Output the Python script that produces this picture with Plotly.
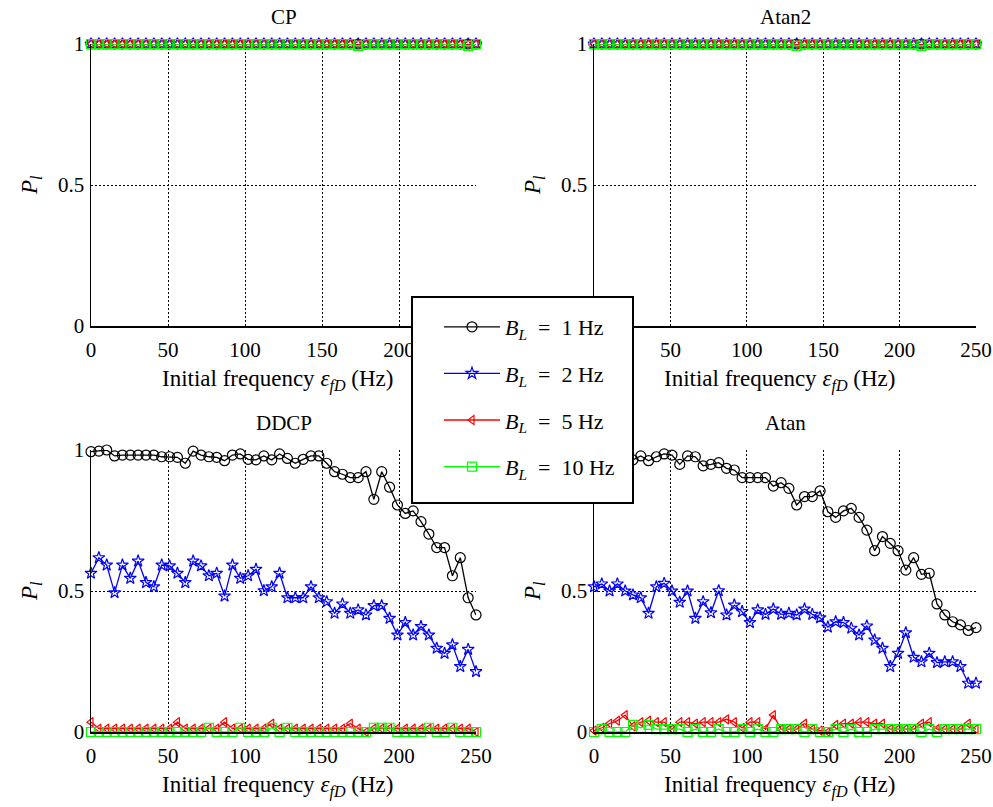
import plotly.graph_objects as go

# ---------------- data ----------------
freq = [0.00, 5.10, 10.20, 15.31, 20.41, 25.51, 30.61, 35.71, 40.82, 45.92,
        51.02, 56.12, 61.22, 66.33, 71.43, 76.53, 81.63, 86.73, 91.84, 96.94,
        102.04, 107.14, 112.24, 117.35, 122.45, 127.55, 132.65, 137.76, 142.86, 147.96,
        153.06, 158.16, 163.27, 168.37, 173.47, 178.57, 183.67, 188.78, 193.88, 198.98,
        204.08, 209.18, 214.29, 219.39, 224.49, 229.59, 234.69, 239.80, 244.90, 250.00]

series_labels = ["<i>B</i><sub><i>L</i></sub>&nbsp;&nbsp;=&nbsp;&nbsp;1 Hz",
                 "<i>B</i><sub><i>L</i></sub>&nbsp;&nbsp;=&nbsp;&nbsp;2 Hz",
                 "<i>B</i><sub><i>L</i></sub>&nbsp;&nbsp;=&nbsp;&nbsp;5 Hz",
                 "<i>B</i><sub><i>L</i></sub>&nbsp;&nbsp;=&nbsp;&nbsp;10 Hz"]
panel_titles = ["CP", "Atan2", "DDCP", "Atan"]
x_ticks = [0, 50, 100, 150, 200, 250]
y_ticks = [0, 0.5, 1]
y_ticktext = ["0", "0.5", "1"]

# CP
cp_bl1 = [1.0, 1.0, 1.0, 1.0, 1.0, 1.0, 1.0, 1.0, 1.0, 1.0,
          1.0, 1.0, 1.0, 1.0, 1.0, 1.0, 1.0, 1.0, 1.0, 1.0,
          1.0, 1.0, 1.0, 1.0, 1.0, 1.0, 1.0, 1.0, 1.0, 1.0,
          1.0, 1.0, 1.0, 1.0, 1.0, 1.0, 1.0, 1.0, 1.0, 1.0,
          1.0, 1.0, 1.0, 1.0, 1.0, 1.0, 1.0, 1.0, 1.0, 1.0]
cp_bl2 = [1.0, 1.0, 1.0, 1.0, 1.0, 1.0, 1.0, 1.0, 1.0, 1.0,
          1.0, 1.0, 1.0, 1.0, 1.0, 1.0, 1.0, 1.0, 1.0, 1.0,
          1.0, 1.0, 1.0, 1.0, 1.0, 1.0, 1.0, 1.0, 1.0, 1.0,
          1.0, 1.0, 1.0, 1.0, 1.0, 1.0, 1.0, 1.0, 1.0, 1.0,
          1.0, 1.0, 1.0, 1.0, 1.0, 1.0, 1.0, 1.0, 1.0, 1.0]
cp_bl5 = [1.0, 1.0, 1.0, 1.0, 1.0, 1.0, 1.0, 1.0, 1.0, 1.0,
          1.0, 1.0, 1.0, 1.0, 1.0, 1.0, 1.0, 1.0, 1.0, 1.0,
          1.0, 1.0, 1.0, 1.0, 1.0, 1.0, 1.0, 1.0, 1.0, 1.0,
          1.0, 1.0, 1.0, 1.0, 1.0, 1.0, 1.0, 1.0, 1.0, 1.0,
          1.0, 1.0, 1.0, 1.0, 1.0, 1.0, 1.0, 1.0, 1.0, 1.0]
cp_bl10 = [1.0, 1.0, 1.0, 1.0, 1.0, 1.0, 1.0, 1.0, 1.0, 1.0,
           1.0, 1.0, 1.0, 1.0, 1.0, 1.0, 1.0, 1.0, 1.0, 1.0,
           1.0, 1.0, 1.0, 1.0, 1.0, 1.0, 1.0, 1.0, 1.0, 1.0,
           1.0, 1.0, 1.0, 1.0, 0.993, 1.0, 1.0, 1.0, 1.0, 1.0,
           1.0, 1.0, 1.0, 1.0, 1.0, 1.0, 1.0, 1.0, 0.993, 1.0]

# Atan2
atan2_bl1 = [1.0, 1.0, 1.0, 1.0, 1.0, 1.0, 1.0, 1.0, 1.0, 1.0,
             1.0, 1.0, 1.0, 1.0, 1.0, 1.0, 1.0, 1.0, 1.0, 1.0,
             1.0, 1.0, 1.0, 1.0, 1.0, 1.0, 1.0, 1.0, 1.0, 1.0,
             1.0, 1.0, 1.0, 1.0, 1.0, 1.0, 1.0, 1.0, 1.0, 1.0,
             1.0, 1.0, 1.0, 1.0, 1.0, 1.0, 1.0, 1.0, 1.0, 1.0]
atan2_bl2 = [1.0, 1.0, 1.0, 1.0, 1.0, 1.0, 1.0, 1.0, 1.0, 1.0,
             1.0, 1.0, 1.0, 1.0, 1.0, 1.0, 1.0, 1.0, 1.0, 1.0,
             1.0, 1.0, 1.0, 1.0, 1.0, 1.0, 1.0, 1.0, 1.0, 1.0,
             1.0, 1.0, 1.0, 1.0, 1.0, 1.0, 1.0, 1.0, 1.0, 1.0,
             1.0, 1.0, 1.0, 1.0, 1.0, 1.0, 1.0, 1.0, 1.0, 1.0]
atan2_bl5 = [1.0, 1.0, 1.0, 1.0, 1.0, 1.0, 1.0, 1.0, 1.0, 1.0,
             1.0, 1.0, 1.0, 1.0, 1.0, 1.0, 1.0, 1.0, 1.0, 1.0,
             1.0, 1.0, 1.0, 1.0, 1.0, 1.0, 1.0, 1.0, 1.0, 1.0,
             1.0, 1.0, 1.0, 1.0, 1.0, 1.0, 1.0, 1.0, 1.0, 1.0,
             1.0, 1.0, 1.0, 1.0, 1.0, 1.0, 1.0, 1.0, 1.0, 1.0]
atan2_bl10 = [1.0, 1.0, 1.0, 1.0, 1.0, 1.0, 1.0, 1.0, 1.0, 1.0,
              1.0, 1.0, 1.0, 1.0, 1.0, 1.0, 1.0, 1.0, 1.0, 1.0,
              1.0, 1.0, 1.0, 1.0, 1.0, 1.0, 0.993, 1.0, 1.0, 1.0,
              1.0, 1.0, 1.0, 1.0, 1.0, 1.0, 1.0, 1.0, 1.0, 1.0,
              1.0, 1.0, 0.993, 1.0, 1.0, 1.0, 1.0, 1.0, 1.0, 1.0]

# DDCP
ddcp_bl1 = [0.994, 0.996, 1.0, 0.979, 0.982, 0.982, 0.982, 0.982, 0.982, 0.976,
            0.976, 0.974, 0.953, 0.996, 0.982, 0.976, 0.974, 0.962, 0.982, 0.986,
            0.967, 0.965, 0.979, 0.965, 0.986, 0.970, 0.953, 0.967, 0.979, 0.979,
            0.953, 0.923, 0.914, 0.902, 0.902, 0.923, 0.825, 0.923, 0.868, 0.805,
            0.775, 0.784, 0.746, 0.702, 0.654, 0.654, 0.554, 0.618, 0.476, 0.415]
ddcp_bl2 = [0.563, 0.618, 0.592, 0.494, 0.592, 0.545, 0.606, 0.530, 0.515, 0.592,
            0.589, 0.563, 0.530, 0.606, 0.589, 0.554, 0.563, 0.482, 0.592, 0.545,
            0.554, 0.577, 0.501, 0.515, 0.563, 0.476, 0.476, 0.476, 0.515, 0.476,
            0.462, 0.421, 0.454, 0.421, 0.433, 0.415, 0.448, 0.448, 0.403, 0.344,
            0.388, 0.344, 0.374, 0.344, 0.297, 0.279, 0.309, 0.232, 0.293, 0.214]
ddcp_bl5 = [0.035, 0.012, 0.012, 0.012, 0.012, 0.012, 0.012, 0.012, 0.012, 0.012,
            0.012, 0.035, 0.012, 0.012, 0.012, 0.012, 0.012, 0.035, 0.012, 0.012,
            0.012, 0.012, 0.012, 0.030, 0.012, 0.012, 0.012, 0.012, 0.012, 0.012,
            0.012, 0.012, 0.012, 0.030, 0.012, 0.0, 0.012, 0.012, 0.012, 0.012,
            0.012, 0.012, 0.012, 0.012, 0.012, 0.012, 0.012, 0.012, 0.012, 0.0]
ddcp_bl10 = [0.0, 0.0, 0.0, 0.0, 0.0, 0.0, 0.0, 0.0, 0.0, 0.0,
             0.0, 0.0, 0.0, 0.0, 0.0, 0.015, 0.0, 0.0, 0.0, 0.015,
             0.0, 0.0, 0.0, 0.015, 0.0, 0.015, 0.0, 0.0, 0.0, 0.0,
             0.0, 0.0, 0.0, 0.0, 0.0, 0.0, 0.015, 0.015, 0.015, 0.0,
             0.0, 0.0, 0.0, 0.015, 0.0, 0.0, 0.015, 0.0, 0.0, 0.0]

# Atan
atan_bl1 = [0.970, 0.975, 0.980, 0.970, 0.975, 0.965, 0.979, 0.962, 0.976, 0.986,
            0.982, 0.949, 0.979, 0.976, 0.944, 0.949, 0.955, 0.935, 0.929, 0.902,
            0.902, 0.902, 0.902, 0.872, 0.884, 0.864, 0.805, 0.835, 0.835, 0.855,
            0.781, 0.761, 0.784, 0.793, 0.761, 0.716, 0.643, 0.693, 0.669, 0.643,
            0.574, 0.618, 0.559, 0.563, 0.454, 0.415, 0.391, 0.380, 0.360, 0.370]
atan_bl2 = [0.515, 0.525, 0.500, 0.525, 0.500, 0.486, 0.476, 0.421, 0.515, 0.527,
            0.500, 0.460, 0.500, 0.403, 0.462, 0.423, 0.501, 0.415, 0.450, 0.427,
            0.388, 0.433, 0.417, 0.436, 0.417, 0.421, 0.415, 0.436, 0.417, 0.405,
            0.372, 0.391, 0.388, 0.368, 0.344, 0.376, 0.326, 0.297, 0.232, 0.279,
            0.352, 0.265, 0.249, 0.279, 0.246, 0.249, 0.249, 0.232, 0.173, 0.173]
atan_bl5 = [0.005, 0.015, 0.030, 0.040, 0.060, 0.020, 0.035, 0.040, 0.035, 0.035,
            0.010, 0.035, 0.035, 0.030, 0.035, 0.035, 0.035, 0.045, 0.035, 0.015,
            0.035, 0.035, 0.010, 0.060, 0.010, 0.010, 0.010, 0.030, 0.010, 0.005,
            0.0, 0.025, 0.030, 0.030, 0.035, 0.035, 0.030, 0.030, 0.010, 0.010,
            0.010, 0.010, 0.030, 0.035, 0.010, 0.010, 0.010, 0.010, 0.030, 0.010]
atan_bl10 = [0.0, 0.010, 0.0, 0.0, 0.0, 0.025, 0.015, 0.025, 0.010, 0.010,
             0.010, 0.010, 0.0, 0.010, 0.0, 0.0, 0.010, 0.0, 0.0, 0.010,
             0.0, 0.010, 0.0, 0.0, 0.010, 0.010, 0.010, 0.0, 0.010, 0.0,
             0.0, 0.010, 0.0, 0.010, 0.0, 0.0, 0.010, 0.010, 0.010, 0.010,
             0.010, 0.010, 0.0, 0.010, 0.0, 0.010, 0.010, 0.010, 0.010, 0.010]

panels_data = [
    [cp_bl1, cp_bl2, cp_bl5, cp_bl10],
    [atan2_bl1, atan2_bl2, atan2_bl5, atan2_bl10],
    [ddcp_bl1, ddcp_bl2, ddcp_bl5, ddcp_bl10],
    [atan_bl1, atan_bl2, atan_bl5, atan_bl10],
]

# ---------------- style ----------------
W, H = 993, 807
FONT = "Liberation Serif"
colors = ["#000000", "#0000ff", "#ff0000", "#00ff00"]
symbols = ["circle-open", "star-open", "triangle-left-open", "square-open"]
msizes = [10, 9, 8, 9]


def px(v):
    """window x pixel -> paper x"""
    return v / W


def py(v):
    """window y pixel -> paper y"""
    return 1 - v / H


# panel boxes in window pixels: (x0, x1, ytop, ybottom)
boxes = [(91, 476, 44, 326), (594, 976, 44, 326),
         (91, 476, 450, 732), (594, 976, 450, 732)]

fig = go.Figure()

for p, (data, box) in enumerate(zip(panels_data, boxes)):
    xa = "x" if p == 0 else f"x{p + 1}"
    ya = "y" if p == 0 else f"y{p + 1}"
    for s in range(4):
        fig.add_trace(go.Scatter(
            x=freq, y=data[s], xaxis=xa, yaxis=ya,
            mode="lines+markers", name=series_labels[s],
            legendgroup=f"g{s}", showlegend=(p == 0),
            line=dict(color=colors[s], width=1.3),
            marker=dict(symbol=symbols[s], size=msizes[s], color=colors[s],
                        line=dict(color=colors[s], width=1.2)),
            cliponaxis=False,
        ))

layout = dict(
    width=W, height=H, autosize=False,
    margin=dict(l=0, r=0, t=0, b=0, pad=0),
    paper_bgcolor="white", plot_bgcolor="white",
    font=dict(family=FONT, size=20, color="black"),
    legend=dict(x=px(439), y=py(306), xanchor="left", yanchor="top",
                bgcolor="rgba(0,0,0,0)", borderwidth=0,
                font=dict(family=FONT, size=22, color="black"),
                tracegroupgap=15, traceorder="grouped", itemwidth=56),
    shapes=[dict(type="rect", xref="paper", yref="paper",
                 x0=px(412), x1=px(633), y0=py(503), y1=py(297),
                 fillcolor="white", line=dict(color="black", width=2),
                 layer="above")],
    annotations=[],
)

for p, box in enumerate(boxes):
    x0, x1, yt, yb = box
    sx = "" if p == 0 else str(p + 1)
    layout[f"xaxis{sx}"] = dict(
        domain=[px(x0), px(x1)], anchor=f"y{sx}", range=[0, 250],
        tickvals=x_ticks, showline=True, linecolor="black", linewidth=1.5,
        showgrid=True, gridcolor="black", griddash="2px,2px", gridwidth=1,
        zeroline=False, ticks="outside", ticklen=4, tickcolor="rgba(0,0,0,0)",
        automargin=False, ticklabeloverflow="allow",
        tickfont=dict(family=FONT, size=21, color="black"), fixedrange=True)
    layout[f"yaxis{sx}"] = dict(
        domain=[py(yb), py(yt)], anchor=f"x{sx}", range=[0, 1],
        tickvals=y_ticks, ticktext=y_ticktext, showline=True, linecolor="black",
        linewidth=1.5, showgrid=True, gridcolor="black", griddash="2px,2px",
        gridwidth=1, zeroline=False, ticks="outside", ticklen=1,
        tickcolor="rgba(0,0,0,0)", automargin=False, ticklabeloverflow="allow",
        tickfont=dict(family=FONT, size=21, color="black"), fixedrange=True)
    cx = (x0 + x1) / 2
    # panel title
    layout["annotations"].append(dict(
        text=panel_titles[p], xref="paper", yref="paper",
        x=px(cx), y=py(yt - 27), xanchor="center", yanchor="middle",
        showarrow=False, font=dict(family=FONT, size=21, color="black")))
    # x-axis title
    layout["annotations"].append(dict(
        text="Initial frequency <i>ε</i><sub><i>fD</i></sub> (Hz)",
        xref="paper", yref="paper", x=px(cx - 6), y=py(yb + 38),
        xanchor="center", yanchor="top", showarrow=False,
        font=dict(family=FONT, size=23, color="black")))
    # y-axis title
    layout["annotations"].append(dict(
        text="<i>P</i><sub><i>l</i></sub>", xref="paper", yref="paper",
        x=px(x0 - 60), y=py((yt + yb) / 2), xanchor="center",
        yanchor="middle", textangle=-90, showarrow=False,
        font=dict(family=FONT, size=23, color="black")))

fig.update_layout(**layout)
fig.write_html("out.html",
               config=dict(displayModeBar=False, staticPlot=True),
               post_script="document.body.style.margin='0';"
                           "document.body.style.overflow='hidden';")
